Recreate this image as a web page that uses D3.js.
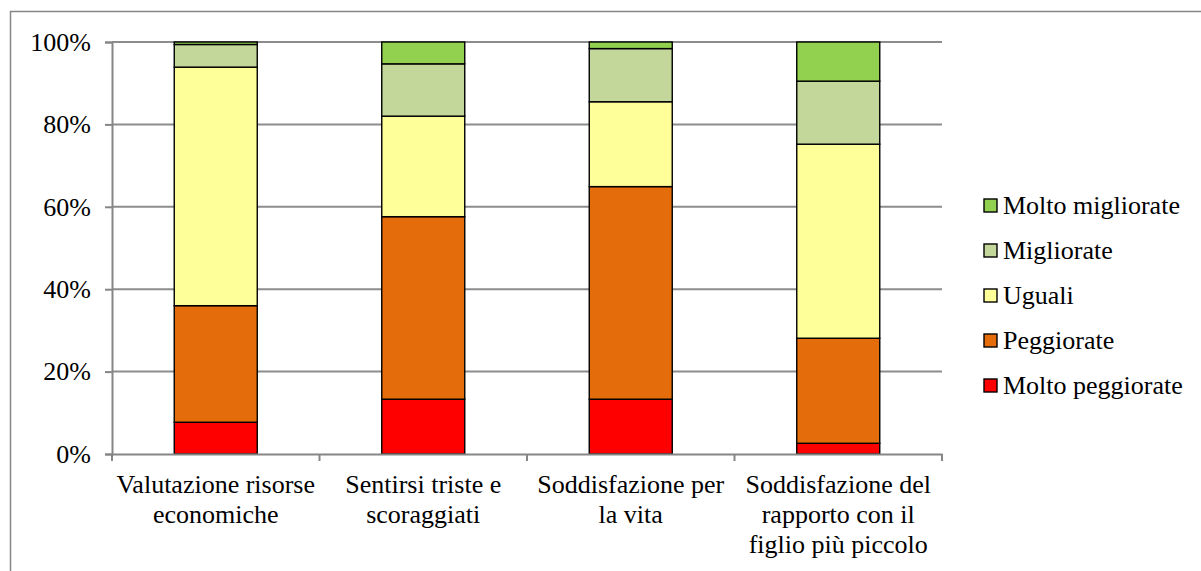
<!DOCTYPE html>
<html>
<head>
<meta charset="utf-8">
<script src="https://cdn.jsdelivr.net/npm/d3@7"></script>
<style>
  html, body { margin: 0; padding: 0; background: #fff; }
  svg { display: block; }
  .serif { font-family: 'Liberation Serif'; font-size: 26px; }
</style>
</head>
<body>
<svg id="chart" width="1201" height="571"></svg>
<script>
// Categories (x axis labels, split in lines)
const categories = [
  "Valutazione risorse economiche",
  "Sentirsi triste e scoraggiati",
  "Soddisfazione per la vita",
  "Soddisfazione del rapporto con il figlio più piccolo"
];
const categoryLines = [
  ["Valutazione risorse", "economiche"],
  ["Sentirsi triste e", "scoraggiati"],
  ["Soddisfazione per", "la vita"],
  ["Soddisfazione del", "rapporto con il", "figlio più piccolo"]
];

// Series, stacked bottom to top (percent shares)
const seriesNames = ["Molto peggiorate", "Peggiorate", "Uguali", "Migliorate", "Molto migliorate"];
const moltoPeggiorate = [7.7, 13.3, 13.3, 2.6];
const peggiorate      = [28.3, 44.3, 51.6, 25.5];
const uguali          = [57.9, 24.4, 20.6, 47.1];
const migliorate      = [5.5, 12.7, 12.9, 15.3];
const moltoMigliorate = [0.6, 5.3, 1.6, 9.5];
const seriesColors = ["#FF0000", "#E46C0A", "#FFFF99", "#C4D79B", "#92D050"];

const yTicks = [0, 0.2, 0.4, 0.6, 0.8, 1.0];

const svg = d3.select("#chart");

// outer frame of the chart area
svg.append("rect")
  .attr("x", 10.5).attr("y", 11.5)
  .attr("width", 1200).attr("height", 600)
  .attr("fill", "none").attr("stroke", "#868686").attr("stroke-width", 1.5);

const plot = { left: 112, right: 942, top: 42, bottom: 454 };

const x = d3.scaleBand()
  .domain(categories)
  .range([plot.left, plot.right])
  .paddingInner(0.6)
  .paddingOuter(0.3);

const y = d3.scaleLinear().domain([0, 1]).range([plot.bottom, plot.top]);

// rows of values per category, then normalized stacking
const rows = categories.map((c, i) => {
  const vals = [moltoPeggiorate[i], peggiorate[i], uguali[i], migliorate[i], moltoMigliorate[i]];
  const tot = d3.sum(vals);
  const r = { cat: c };
  seriesNames.forEach((s, k) => r[s] = vals[k] / tot);
  return r;
});
const stacked = d3.stack().keys(seriesNames)(rows);

// horizontal gridlines
svg.append("g")
  .selectAll("line")
  .data(yTicks.slice(1))
  .join("line")
  .attr("x1", plot.left).attr("x2", plot.right)
  .attr("y1", d => y(d)).attr("y2", d => y(d))
  .attr("stroke", "#8C8C8C").attr("stroke-width", 2);

// y axis
const yAxis = svg.append("g")
  .attr("transform", `translate(${plot.left},0)`)
  .call(d3.axisLeft(y).tickValues(yTicks).tickFormat(d3.format(".0%")).tickSize(7).tickPadding(14));
yAxis.attr("font-family", "Liberation Serif").attr("font-size", 26);
yAxis.select(".domain").attr("stroke", "#868686").attr("stroke-width", 2);
yAxis.selectAll(".tick line").attr("stroke", "#868686").attr("stroke-width", 2);
yAxis.selectAll(".tick text").attr("class", "serif").attr("fill", "#000");

// bars
svg.append("g")
  .selectAll("g")
  .data(stacked)
  .join("g")
  .attr("fill", (d, i) => seriesColors[i])
  .selectAll("rect")
  .data(d => d)
  .join("rect")
  .attr("x", d => x(d.data.cat))
  .attr("width", x.bandwidth())
  .attr("y", d => y(d[1]))
  .attr("height", d => y(d[0]) - y(d[1]))
  .attr("stroke", "#000").attr("stroke-width", 1.4);

// x axis line
const xAxis = svg.append("g")
  .attr("transform", `translate(0,${plot.bottom})`)
  .call(d3.axisBottom(x).tickSize(0).tickFormat(""));
xAxis.select(".domain").attr("stroke", "#868686").attr("stroke-width", 2);
xAxis.selectAll(".tick").remove();

// category boundary ticks
const step = x.step();
const bounds = d3.range(categories.length + 1).map(i => plot.left + i * step);
svg.append("g")
  .selectAll("line")
  .data(bounds)
  .join("line")
  .attr("x1", d => d).attr("x2", d => d)
  .attr("y1", plot.bottom).attr("y2", plot.bottom + 7)
  .attr("stroke", "#868686").attr("stroke-width", 2);

// category labels
categories.forEach((c, i) => {
  const cx = x(c) + x.bandwidth() / 2;
  const t = svg.append("text")
    .attr("class", "serif")
    .attr("font-family", "Liberation Serif")
    .attr("text-anchor", "middle")
    .attr("fill", "#000")
    .attr("x", cx)
    .attr("y", 493);
  categoryLines[i].forEach((ln, j) => {
    t.append("tspan")
      .attr("x", cx)
      .attr("dy", j === 0 ? 0 : 30)
      .text(ln);
  });
});

// legend, top item is the last stacked series
const legendOrder = seriesNames.slice().reverse();
legendOrder.forEach((name, i) => {
  const cy = 205 + i * 45;
  const idx = seriesNames.indexOf(name);
  svg.append("rect")
    .attr("x", 984).attr("y", cy - 6)
    .attr("width", 13).attr("height", 13)
    .attr("fill", seriesColors[idx])
    .attr("stroke", "#000").attr("stroke-width", 1.4);
  svg.append("text")
    .attr("class", "serif")
    .attr("font-family", "Liberation Serif")
    .attr("x", 1003).attr("y", cy + 9)
    .attr("fill", "#000")
    .text(name);
});
</script>
</body>
</html>
